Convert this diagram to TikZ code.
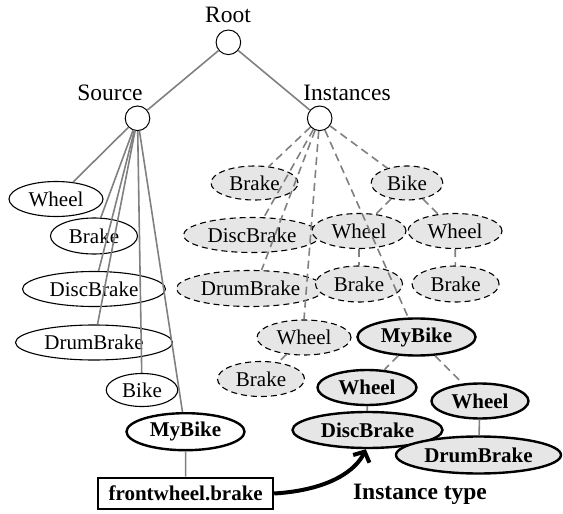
\documentclass[tikz,border=0pt]{standalone}
\usepackage{fontspec}
\setmainfont{Liberation Serif}
\usetikzlibrary{shapes.geometric,arrows.meta}
\definecolor{edgegray}{RGB}{128,128,128}
\definecolor{lightfill}{RGB}{230,230,230}
\newcommand{\nfont}{\fontsize{10.5pt}{12pt}\selectfont}
\newcommand{\lfont}{\fontsize{11.75pt}{14pt}\selectfont}
\begin{document}
\begin{tikzpicture}[x=0.5pt,y=-0.5pt,
  circ/.style={circle,draw,line width=0.5pt,minimum size=12.3pt,inner sep=0pt},
  lab/.style={font=\lfont,anchor=base,inner sep=0pt},
  srcn/.style={ellipse,draw,line width=0.55pt,inner sep=0pt,font=\nfont},
  instn/.style={ellipse,draw,line width=0.55pt,dash pattern=on 3pt off 2pt,fill=lightfill,inner sep=0pt,font=\nfont},
  boldn/.style={ellipse,draw,line width=1.2pt,fill=lightfill,inner sep=0pt,font=\nfont\bfseries},
  sz/.style 2 args={minimum width=#1pt,minimum height=#2pt},
  edge/.style={draw=edgegray,line width=0.8pt},
  dedge/.style={edge,dash pattern=on 4pt off 2.5pt},
  arrowline/.style={draw=black,line width=2pt,-{Straight Barb[length=4pt,width=9pt]}}
]
\useasboundingbox (0,0) rectangle (563,514);

% labels and circles
\node[lab] (rootlab) at (228,22) {Root};
\node[lab] (srclab) at (110,100) {Source};
\node[lab] (instlab) at (347,100) {Instances};
\node[circ] (root) at (228.4,42.3) {};
\node[circ] (src) at (137.5,118.3) {};
\node[circ] (inst) at (319.7,118.3) {};

% source subtree
\node[srcn,sz={47}{17.5}] (swheel) at (56,199) {Wheel};
\node[srcn,sz={43.5}{18}] (sbrake) at (94,236) {Brake};
\node[srcn,sz={71.5}{17.5}] (sdisc) at (94,289) {DiscBrake};
\node[srcn,sz={78.5}{17.5}] (sdrum) at (94,342.5) {DrumBrake};
\node[srcn,sz={35.75}{16.5}] (sbike) at (142,390) {Bike};
\node[srcn,line width=1.2pt,font=\nfont\bfseries,sz={59}{18.5}] (smybike) at (185.5,431.7) {MyBike};
\node[draw,line width=1pt,inner sep=0pt,minimum width=87.5pt,minimum height=15.85pt,font=\nfont\bfseries] (box) at (185.7,493.5) {frontwheel.brake};

% instances subtree
\node[instn,sz={43.5}{17}] (ibrake) at (254.5,183) {Brake};
\node[instn,sz={35.75}{17}] (ibike) at (407,183) {Bike};
\node[instn,sz={68.5}{17.5}] (idisc) at (252,235) {DiscBrake};
\node[instn,sz={47}{17.5}] (iwheelm) at (359,231) {Wheel};
\node[instn,sz={47}{17.5}] (iwheelr) at (455,231) {Wheel};
\node[instn,sz={74}{18}] (idrum) at (250.5,288.5) {DrumBrake};
\node[instn,sz={43.5}{18}] (ibrakem) at (359,284) {Brake};
\node[instn,sz={43.5}{18}] (ibraker) at (455.6,284) {Brake};
\node[instn,sz={47}{17.5}] (iwheell) at (304,337.5) {Wheel};
\node[instn,sz={43.5}{17.5}] (ibrakel) at (261,379) {Brake};
\node[boldn,sz={59}{18.5}] (imybike) at (416.5,337) {MyBike};
\node[boldn,sz={49.5}{17.5}] (bwheel) at (367,387.5) {Wheel};
\node[boldn,sz={48.5}{17.5}] (bwheelr) at (480,401) {Wheel};
\node[boldn,sz={75}{18}] (bdisc) at (367.5,430) {DiscBrake};
\node[boldn,sz={82.5}{18.5}] (bdrum) at (478.5,455) {DrumBrake};
\node[font=\lfont\bfseries,anchor=base,inner sep=0pt] (itype) at (420,499) {Instance type};

% edges
\draw[edge] (root) -- (src);
\draw[edge] (root) -- (inst);
\draw[edge] (src) -- (swheel);
\draw[edge] (src) -- (sbrake);
\draw[edge] (src) -- (sdisc);
\draw[edge] (src) -- (sdrum);
\draw[edge] (src) -- (sbike);
\draw[edge] (src) -- (smybike);
\draw[edge] (smybike) -- (box);

\draw[dedge] (inst) -- (ibrake.49);
\draw[dedge] (inst) -- (idisc.56);
\draw[dedge] (inst) -- (idrum.59);
\draw[dedge] (inst) -- (iwheell.90);
\draw[dedge] (inst) -- (imybike.113);
\draw[dedge] (inst) -- (ibike.143);
\draw[dedge] (ibike) -- (iwheelm);
\draw[dedge] (ibike) -- (iwheelr);
\draw[dedge] (iwheelm) -- (ibrakem);
\draw[dedge] (iwheelr) -- (ibraker);
\draw[dedge] (iwheell) -- (ibrakel);
\draw[dedge] (imybike) -- (bwheel);
\draw[dedge] (imybike) -- (bwheelr);
\draw[edge] (bwheel) -- (bdisc);
\draw[edge] (bwheelr) -- (bdrum);

\draw[arrowline] (box.east) .. controls (330,490) and (356,470) .. (bdisc.265);
\end{tikzpicture}
\end{document}
